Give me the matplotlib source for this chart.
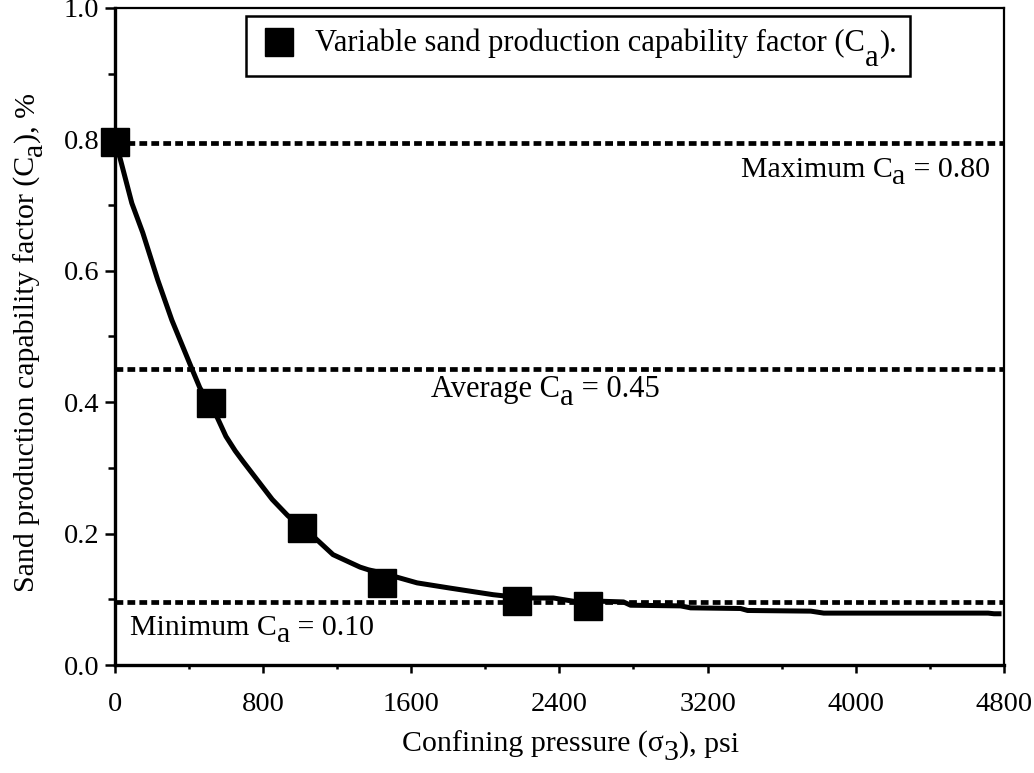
import matplotlib
matplotlib.use("Agg")
import matplotlib.pyplot as plt
from matplotlib.lines import Line2D
from matplotlib.patches import Rectangle

plt.rcParams['font.family'] = ['Liberation Serif', 'DejaVu Serif']
plt.rcParams['lines.scale_dashes'] = False

# curve
pressure = [0, 27, 92, 151, 232, 308, 416, 459, 551, 600, 650, 692, 850, 935, 1011,
            1086, 1178, 1324, 1368, 1443, 1519, 1632, 1811, 2043, 2173, 2249,
            2368, 2476, 2557, 2632, 2746, 2784, 3054, 3108, 3378, 3416, 3757,
            3827, 4714, 4746, 4773]
ca_curve = [0.796, 0.773, 0.703, 0.658, 0.586, 0.525, 0.451, 0.422, 0.378, 0.348,
            0.326, 0.310, 0.252, 0.227, 0.210, 0.192, 0.168, 0.149, 0.145, 0.140,
            0.134, 0.125, 0.117, 0.107, 0.103, 0.102, 0.102, 0.097, 0.097, 0.097,
            0.096, 0.091, 0.090, 0.087, 0.086, 0.083, 0.082, 0.079, 0.079, 0.078,
            0.078]

# measured points (squares)
point_p = [0, 519, 1011, 1443, 2173, 2557]
point_ca = [0.796, 0.399, 0.209, 0.125, 0.097, 0.090]

max_ca = 0.795
avg_ca = 0.451
min_ca = 0.096

x_ticks = [0, 800, 1600, 2400, 3200, 4000, 4800]
y_ticks = [0.0, 0.2, 0.4, 0.6, 0.8, 1.0]

fig = plt.figure(figsize=(10.34, 7.73), dpi=100)
ax = fig.add_axes([0.111, 0.1397, 0.860, 0.850])

dots = dict(color='k', lw=3.4, dashes=(5.6, 3.0))
for level in (max_ca, avg_ca, min_ca):
    ax.axhline(level, zorder=2, **dots)

ax.plot(pressure, ca_curve, color='k', lw=3.6, zorder=3)
ax.plot(point_p, point_ca, 's', color='k', markersize=19.5, zorder=4, clip_on=False)

ax.set_xlim(0, 4800)
ax.set_ylim(0, 1.0)
ax.set_xticks(x_ticks)
ax.set_xticks(range(400, 4800, 800), minor=True)
ax.set_yticks(y_ticks)
ax.set_yticks([0.1, 0.3, 0.5, 0.7, 0.9], minor=True)
ax.set_yticklabels(['%.1f' % v for v in y_ticks])
ax.tick_params(axis='both', which='major', labelsize=20.5, width=1.8, direction='out')
ax.tick_params(axis='y', which='major', length=7, pad=4)
ax.tick_params(axis='x', which='major', length=6, pad=13.5)
ax.tick_params(axis='y', which='minor', length=5, width=1.8)
ax.tick_params(axis='x', which='minor', length=3, width=1.8)
for side in ('left', 'bottom'):
    ax.spines[side].set_linewidth(2.4)
for side in ('top', 'right'):
    ax.spines[side].set_linewidth(1.6)


def sub_text(x, y, head, sub, tail, size=21.5, rot=0, drop=5.5, **kw):
    if rot:
        t1 = ax.text(x, y, head, fontsize=size, rotation=90, ha='right', va='bottom', **kw)
        t2 = ax.annotate(sub, xy=(1, 1), xycoords=t1, xytext=(drop, 0),
                         textcoords='offset points', fontsize=size, rotation=90,
                         ha='right', va='bottom', annotation_clip=False)
        ax.annotate(tail, xy=(1, 1), xycoords=t2, xytext=(-drop, 0),
                    textcoords='offset points', fontsize=size, rotation=90,
                    ha='right', va='bottom', annotation_clip=False)
    else:
        t1 = ax.text(x, y, head, fontsize=size, ha='left', va='baseline', **kw)
        t2 = ax.annotate(sub, xy=(1, 0), xycoords=t1, xytext=(0, -drop),
                         textcoords='offset points', fontsize=size,
                         ha='left', va='bottom', annotation_clip=False)
        ax.annotate(tail, xy=(1, 0), xycoords=t2, xytext=(0, drop),
                    textcoords='offset points', fontsize=size,
                    ha='left', va='bottom', annotation_clip=False)


sub_text(3378, 0.743, "Maximum C", "a", " = 0.80")
sub_text(1708, 0.408, "Average C", "a", " = 0.45", size=22)
sub_text(81, 0.046, "Minimum C", "a", " = 0.10")

# axis titles
sub_text(0.323, -0.132, "Confining pressure (\u03c3", "3", "), psi", transform=ax.transAxes)
sub_text(-0.0833, 0.111, "Sand production capability factor (C", "a", "), %",
         rot=90, transform=ax.transAxes)

# legend box
ax.add_patch(Rectangle((0.1475, 0.8965), 0.7465, 0.0915, transform=ax.transAxes,
                       fill=False, ec='k', lw=1.8, zorder=5))
key = Line2D([], [], marker='s', ls='none', color='k', markersize=19.5)
ax.legend(handles=[key], labels=[''], loc='center', bbox_to_anchor=(0.1847, 0.9467),
          frameon=False, handlelength=1, handletextpad=0, borderpad=0, borderaxespad=0)
sub_text(0.2257, 0.9345, "Variable sand production capability factor (C", "a", ").",
         size=22, drop=11, transform=ax.transAxes)

fig.savefig("out.png", dpi=100)
